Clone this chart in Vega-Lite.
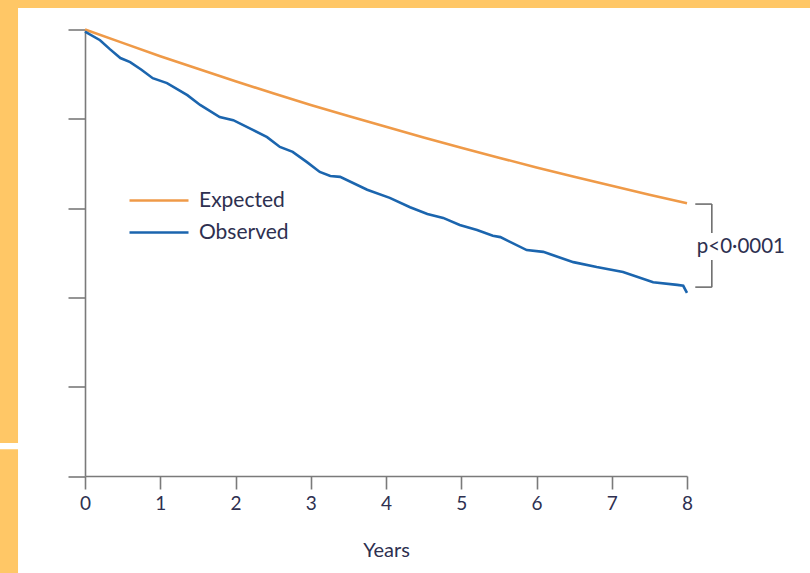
{
  "$schema": "https://vega.github.io/schema/vega-lite/v6.json",
  "width": 602,
  "height": 446.5,
  "autosize": {"type": "none"},
  "padding": {"left": 85, "top": 29.5, "right": 123, "bottom": 97},
  "background": "#ffffff",
  "config": {
    "view": {"stroke": null},
    "font": "Lato"
  },
  "datasets": {
    "frame": [
      {"x0": -1.14, "x1": 9.64, "y0": 104.8, "y1": 106.7},
      {"x0": -1.14, "x1": -0.89, "y0": 7.4, "y1": 104.8},
      {"x0": -1.14, "x1": -0.89, "y0": -21.8, "y1": 6.0}
    ],
    "survival": [
      {"year": 0, "pct": 100, "curve": "Expected"},
      {"year": 0.5, "pct": 97.0, "curve": "Expected"},
      {"year": 1, "pct": 94.0, "curve": "Expected"},
      {"year": 1.5, "pct": 91.2, "curve": "Expected"},
      {"year": 2, "pct": 88.4, "curve": "Expected"},
      {"year": 2.5, "pct": 85.7, "curve": "Expected"},
      {"year": 3, "pct": 83.1, "curve": "Expected"},
      {"year": 3.5, "pct": 80.6, "curve": "Expected"},
      {"year": 4, "pct": 78.2, "curve": "Expected"},
      {"year": 4.5, "pct": 75.8, "curve": "Expected"},
      {"year": 5, "pct": 73.5, "curve": "Expected"},
      {"year": 5.5, "pct": 71.3, "curve": "Expected"},
      {"year": 6, "pct": 69.1, "curve": "Expected"},
      {"year": 6.5, "pct": 67.0, "curve": "Expected"},
      {"year": 7, "pct": 65.0, "curve": "Expected"},
      {"year": 7.5, "pct": 63.0, "curve": "Expected"},
      {"year": 8, "pct": 61.1, "curve": "Expected"},
      {"year": 0, "pct": 99.5, "curve": "Observed"},
      {"year": 0.2, "pct": 97.6, "curve": "Observed"},
      {"year": 0.33, "pct": 95.6, "curve": "Observed"},
      {"year": 0.47, "pct": 93.6, "curve": "Observed"},
      {"year": 0.6, "pct": 92.7, "curve": "Observed"},
      {"year": 0.75, "pct": 91.0, "curve": "Observed"},
      {"year": 0.9, "pct": 89.1, "curve": "Observed"},
      {"year": 1.09, "pct": 88.0, "curve": "Observed"},
      {"year": 1.36, "pct": 85.3, "curve": "Observed"},
      {"year": 1.53, "pct": 83.1, "curve": "Observed"},
      {"year": 1.79, "pct": 80.4, "curve": "Observed"},
      {"year": 1.97, "pct": 79.7, "curve": "Observed"},
      {"year": 2.23, "pct": 77.5, "curve": "Observed"},
      {"year": 2.42, "pct": 75.9, "curve": "Observed"},
      {"year": 2.59, "pct": 73.7, "curve": "Observed"},
      {"year": 2.76, "pct": 72.6, "curve": "Observed"},
      {"year": 2.95, "pct": 70.3, "curve": "Observed"},
      {"year": 3.12, "pct": 68.1, "curve": "Observed"},
      {"year": 3.26, "pct": 67.2, "curve": "Observed"},
      {"year": 3.39, "pct": 67.0, "curve": "Observed"},
      {"year": 3.75, "pct": 64.1, "curve": "Observed"},
      {"year": 4.05, "pct": 62.3, "curve": "Observed"},
      {"year": 4.32, "pct": 60.2, "curve": "Observed"},
      {"year": 4.55, "pct": 58.7, "curve": "Observed"},
      {"year": 4.76, "pct": 57.8, "curve": "Observed"},
      {"year": 4.98, "pct": 56.2, "curve": "Observed"},
      {"year": 5.21, "pct": 55.1, "curve": "Observed"},
      {"year": 5.42, "pct": 53.8, "curve": "Observed"},
      {"year": 5.52, "pct": 53.5, "curve": "Observed"},
      {"year": 5.87, "pct": 50.6, "curve": "Observed"},
      {"year": 6.09, "pct": 50.2, "curve": "Observed"},
      {"year": 6.49, "pct": 47.9, "curve": "Observed"},
      {"year": 6.8, "pct": 46.8, "curve": "Observed"},
      {"year": 7.15, "pct": 45.7, "curve": "Observed"},
      {"year": 7.55, "pct": 43.4, "curve": "Observed"},
      {"year": 7.87, "pct": 42.8, "curve": "Observed"},
      {"year": 7.95, "pct": 42.6, "curve": "Observed"},
      {"year": 8, "pct": 41.0, "curve": "Observed"}
    ],
    "bracket": [
      {"x": 8.11, "x2": 8.33, "y": 60.9, "y2": 60.9},
      {"x": 8.33, "x2": 8.33, "y": 60.9, "y2": 54.4},
      {"x": 8.33, "x2": 8.33, "y": 48.4, "y2": 42.3},
      {"x": 8.11, "x2": 8.33, "y": 42.3, "y2": 42.3}
    ],
    "pvalue": [
      {"x": 8.13, "y": 51.3, "label": "p<0·0001"}
    ]
  },
  "encoding": {
    "x": {"type": "quantitative", "scale": {"domain": [0, 8], "nice": false, "zero": false}, "axis": {
      "values": [0, 1, 2, 3, 4, 5, 6, 7, 8],
      "format": "d",
      "title": "Years",
      "grid": false,
      "domainColor": "#7a7a7a",
      "domainWidth": 1.6,
      "tickColor": "#7a7a7a",
      "tickWidth": 1.6,
      "tickSize": 13,
      "labelFontSize": 19,
      "labelColor": "#2e3050",
      "labelPadding": 5,
      "labelFlush": false,
      "titleFontSize": 20,
      "titleFontWeight": "normal",
      "titleColor": "#2e3050",
      "titlePadding": 27
    }},
    "y": {"type": "quantitative", "scale": {"domain": [0, 100], "nice": false, "zero": false}, "axis": {
      "values": [0, 20, 40, 60, 80, 100],
      "labels": false,
      "title": null,
      "grid": false,
      "domainColor": "#7a7a7a",
      "domainWidth": 1.6,
      "tickColor": "#7a7a7a",
      "tickWidth": 1.6,
      "tickSize": 17
    }}
  },
  "layer": [
    {
      "data": {"name": "survival"},
      "mark": {"type": "line", "strokeWidth": 2.6},
      "encoding": {
        "x": {"field": "year", "type": "quantitative"},
        "y": {"field": "pct", "type": "quantitative"},
        "color": {
          "field": "curve",
          "type": "nominal",
          "scale": {"domain": ["Expected", "Observed"], "range": ["#EF9A48", "#1B65AE"]},
          "legend": {
            "title": null,
            "orient": "none",
            "legendX": 43,
            "legendY": 155,
            "symbolType": "M-1,0H1",
            "symbolSize": 3481,
            "symbolStrokeWidth": 2.6,
            "clipHeight": 32,
            "rowPadding": 0,
            "labelOffset": 9,
            "labelFontSize": 21,
            "labelColor": "#2e3050"
          }
        }
      }
    },
    {
      "data": {"name": "frame"},
      "mark": {"type": "rect", "fill": "#FFC766", "clip": false},
      "encoding": {
        "x": {"field": "x0", "type": "quantitative"},
        "x2": {"field": "x1"},
        "y": {"field": "y0", "type": "quantitative"},
        "y2": {"field": "y1"}
      }
    },
    {
      "data": {"name": "bracket"},
      "mark": {"type": "rule", "color": "#6e6e6e", "strokeWidth": 1.6, "clip": false},
      "encoding": {
        "x": {"field": "x", "type": "quantitative"},
        "x2": {"field": "x2"},
        "y": {"field": "y", "type": "quantitative"},
        "y2": {"field": "y2"}
      }
    },
    {
      "data": {"name": "pvalue"},
      "mark": {"type": "text", "align": "left", "baseline": "middle", "fontSize": 20.5, "color": "#2e3050", "clip": false},
      "encoding": {
        "x": {"field": "x", "type": "quantitative"},
        "y": {"field": "y", "type": "quantitative"},
        "text": {"field": "label"}
      }
    }
  ]
}
